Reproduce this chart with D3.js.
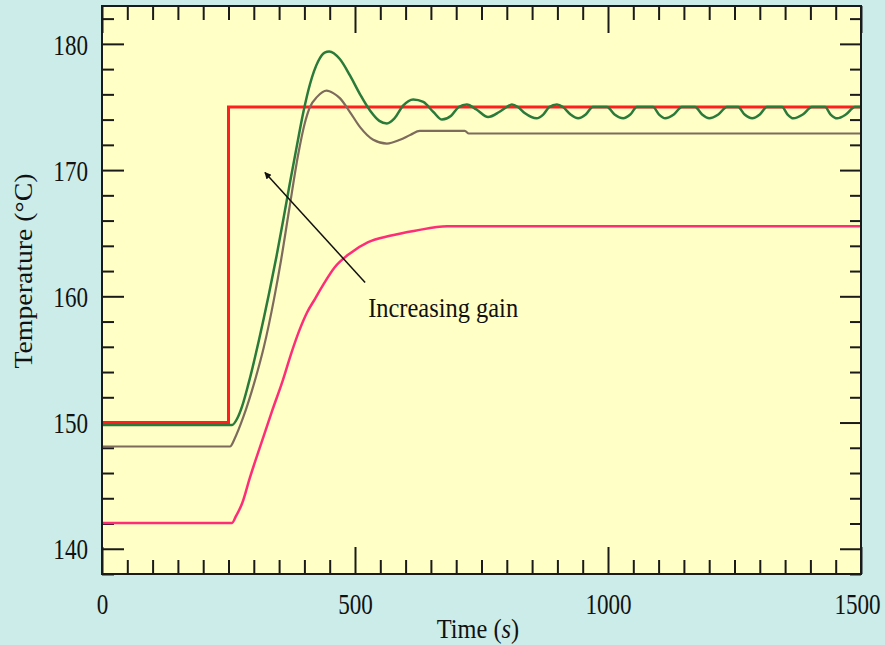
<!DOCTYPE html>
<html>
<head>
<meta charset="utf-8">
<script src="https://cdn.jsdelivr.net/npm/d3@7"></script>
<style>
  body { margin: 0; background: #cbece9; }
  svg { display: block; }
</style>
</head>
<body>
<div id="chart"></div>
<script>
// setpoint step and three controller responses (time s, temperature C)
var setpoint = [[0, 150], [250, 150], [250, 175], [1500, 175]];

var lowGain = [[0, 142.05], [257, 142.05], [265, 142.6], [277, 143.6], [292, 145.6], [316, 148.5],
    [336, 150.9], [357, 153.3], [375, 155.6], [390, 157.3], [405, 158.7], [421, 159.8], [437, 160.9],
    [460, 162.3], [490, 163.4], [526, 164.3], [569, 164.8], [619, 165.2], [682, 165.55], [1500, 165.55]];

var midGain = [[0, 148.1], [253, 148.1], [263, 148.8], [279, 150.4], [302, 153.3],
    [320, 156.0], [340, 159.8], [354, 162.9], [370, 166.9], [388, 171.3], [400, 173.6], [411, 175.0],
    [425, 175.8], [444, 176.3], [457, 176.1], [470, 175.7], [490, 174.6], [510, 173.4], [536, 172.4],
    [563, 172.1], [589, 172.4], [610, 172.8], [628, 173.1], [717, 173.1], [725, 172.9], [1500, 172.9]];

var highGain = [[0, 149.8], [257, 149.8], [267, 150.3], [277, 151.3], [289, 153.0], [310, 156.5],
    [330, 160.2], [345, 163.2], [358, 166.0], [371, 168.9], [385, 171.9], [398, 174.6], [411, 176.8],
    [427, 178.6], [440, 179.3], [449, 179.4], [470, 178.8], [490, 177.5], [510, 176.0], [530, 174.7],
    [548, 173.9], [563, 173.7], [578, 174.1], [595, 175.1], [615, 175.6], [635, 175.4], [655, 174.6],
    [672, 174.0], [690, 174.3], [705, 175.0], [721, 175.2], [740, 174.8], [763, 174.2], [785, 174.6],
    [800, 175.0], [810, 175.2], [822, 175.0], [836, 174.5], [859, 174.1], [872, 174.4], [884, 175.0],
    [899, 175.2], [911, 175.0], [926, 174.4], [941, 174.1], [956, 174.4], [970, 175.0], [998, 175.0],
    [1013, 174.4], [1030, 174.1], [1044, 174.4], [1057, 175.0], [1089, 175.0], [1101, 174.4],
    [1113, 174.1], [1130, 174.4], [1146, 175.0], [1172, 175.0], [1186, 174.4], [1200, 174.1],
    [1218, 174.4], [1235, 175.0], [1257, 175.0], [1270, 174.4], [1285, 174.1], [1300, 174.4],
    [1314, 175.0], [1344, 175.0], [1355, 174.4], [1366, 174.1], [1385, 174.4], [1403, 175.0],
    [1429, 175.0], [1440, 174.4], [1453, 174.1], [1470, 174.4], [1488, 175.0], [1500, 175.0]];

var xTicks = [0, 500, 1000, 1500];
var yTicks = [140, 150, 160, 170, 180];

// annotation: arrow from label towards the higher gain curves
var arrowFrom = [520, 161.1];
var arrowTo = [322, 169.8];
var noteAt = [526, 158.4];
var noteText = "Increasing gain";

var svgWidth = 885, svgHeight = 645;
var margin = { top: 6, right: 24, bottom: 71, left: 102 };
var width = svgWidth - margin.left - margin.right;
var height = svgHeight - margin.top - margin.bottom;

var svg = d3.select("#chart").append("svg")
    .attr("width", svgWidth)
    .attr("height", svgHeight);

var defs = svg.append("defs");
defs.append("marker")
    .attr("id", "head")
    .attr("viewBox", "0 0 10 10")
    .attr("refX", 9)
    .attr("refY", 5)
    .attr("markerWidth", 7)
    .attr("markerHeight", 4.5)
    .attr("orient", "auto")
    .append("path")
    .attr("d", "M0,0L10,5L0,10z")
    .attr("fill", "#111");

var g = svg.append("g")
    .attr("transform", `translate(${margin.left}, ${margin.top})`);

var x = d3.scaleLinear().domain([0, 1500]).range([0, width]);
var y = d3.scaleLinear().domain([138, 183]).range([height, 0]);

g.append("rect")
    .attr("width", width)
    .attr("height", height)
    .attr("fill", "#ffffc6");

var minorX = d3.range(0, 1501, 50).filter(d => xTicks.indexOf(d) < 0);
var minorY = d3.range(138, 183, 2).filter(d => yTicks.indexOf(d) < 0);

function drawAxis(axis, transform) {
    var a = g.append("g").attr("transform", transform).call(axis);
    a.select(".domain").remove();
    a.selectAll("line").attr("stroke", "#1a1a1a").attr("stroke-width", 2);
    return a;
}

// major and minor ticks on all four sides, pointing inward
var bottom = drawAxis(d3.axisBottom(x).tickValues(xTicks).tickSize(-27).tickFormat(d3.format("d")), `translate(0, ${height})`);
drawAxis(d3.axisBottom(x).tickValues(minorX).tickSize(-14).tickFormat(""), `translate(0, ${height})`);
drawAxis(d3.axisTop(x).tickValues(xTicks).tickSize(-27).tickFormat(""), "translate(0, 0)");
drawAxis(d3.axisTop(x).tickValues(minorX).tickSize(-14).tickFormat(""), "translate(0, 0)");
var left = drawAxis(d3.axisLeft(y).tickValues(yTicks).tickSize(-22).tickFormat(d3.format("d")), "translate(0, 0)");
drawAxis(d3.axisLeft(y).tickValues(minorY).tickSize(-12).tickFormat(""), "translate(0, 0)");
drawAxis(d3.axisRight(y).tickValues(yTicks).tickSize(-21).tickFormat(""), `translate(${width}, 0)`);
drawAxis(d3.axisRight(y).tickValues(minorY).tickSize(-11).tickFormat(""), `translate(${width}, 0)`);

// narrow digits like the original
var squeeze = 0.77;

bottom.selectAll("text")
    .attr("dy", null)
    .attr("y", 40)
    .attr("x", d => d == 1500 ? -4 / squeeze : 0)
    .attr("transform", `scale(${squeeze}, 1)`)
    .attr("font-family", "Liberation Serif")
    .attr("font-size", 30)
    .attr("fill", "#111");

left.selectAll("text")
    .attr("dy", "0.34em")
    .attr("x", -14 / squeeze)
    .attr("transform", `scale(${squeeze}, 1)`)
    .attr("font-family", "Liberation Serif")
    .attr("font-size", 30)
    .attr("fill", "#111");

var line = d3.line()
    .x(d => x(d[0]))
    .y(d => y(d[1]));

var smooth = d3.line()
    .x(d => x(d[0]))
    .y(d => y(d[1]))
    .curve(d3.curveMonotoneX);

g.append("path").datum(setpoint)
    .attr("d", line).attr("fill", "none")
    .attr("stroke", "#ff1f1f").attr("stroke-width", 3);

g.append("path").datum(lowGain)
    .attr("d", smooth).attr("fill", "none")
    .attr("stroke", "#ff2d78").attr("stroke-width", 2.5);

g.append("path").datum(midGain)
    .attr("d", smooth).attr("fill", "none")
    .attr("stroke", "#7d6b5d").attr("stroke-width", 2.2);

g.append("path").datum(highGain)
    .attr("d", smooth).attr("fill", "none")
    .attr("stroke", "#2a7a3a").attr("stroke-width", 2.5);

g.append("line")
    .attr("x1", x(arrowFrom[0])).attr("y1", y(arrowFrom[1]))
    .attr("x2", x(arrowTo[0])).attr("y2", y(arrowTo[1]))
    .attr("stroke", "#111").attr("stroke-width", 1.5)
    .attr("marker-end", "url(#head)");

g.append("text")
    .attr("x", x(noteAt[0]))
    .attr("y", y(noteAt[1]))
    .attr("font-family", "Liberation Serif")
    .attr("font-size", 28)
    .attr("fill", "#111")
    .attr("textLength", 150)
    .attr("lengthAdjust", "spacingAndGlyphs")
    .text(noteText);

// frame
g.append("rect")
    .attr("width", width)
    .attr("height", height)
    .attr("fill", "none")
    .attr("stroke", "#1a1a1a")
    .attr("stroke-width", 2);

var xLabel = svg.append("text")
    .attr("transform", "translate(478, 638) scale(0.87, 1)")
    .attr("text-anchor", "middle")
    .attr("font-family", "Liberation Serif")
    .attr("font-size", 28)
    .attr("fill", "#111");
xLabel.append("tspan").text("Time (");
xLabel.append("tspan").attr("font-style", "italic").text("s");
xLabel.append("tspan").text(")");

svg.append("text")
    .attr("transform", "translate(32, 271) rotate(-90)")
    .attr("text-anchor", "middle")
    .attr("font-family", "Liberation Serif")
    .attr("font-size", 25)
    .attr("fill", "#111")
    .attr("textLength", 195)
    .attr("lengthAdjust", "spacingAndGlyphs")
    .text("Temperature (°C)");
</script>
</body>
</html>
